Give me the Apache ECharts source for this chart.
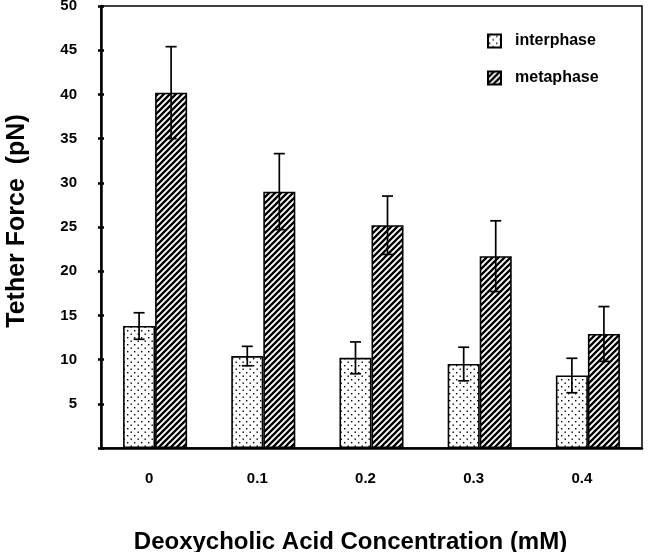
<!DOCTYPE html>
<html>
<head>
<meta charset="utf-8">
<script src="https://cdn.jsdelivr.net/npm/echarts@6/dist/echarts.min.js"></script>
<style>
html,body{margin:0;padding:0;background:#fff;}
#c{width:648px;height:552px;}
</style>
</head>
<body>
<div id="c"></div>
<script>
const categories = ['0', '0.1', '0.2', '0.3', '0.4'];
const interphase = [13.8, 10.4, 10.2, 9.5, 8.2];
const interphaseErr = [1.5, 1.1, 1.8, 1.9, 1.95];
const metaphase = [40.2, 29.0, 25.2, 21.7, 12.9];
const metaphaseErr = [5.2, 4.3, 3.3, 4.0, 3.1];
const yTickLabels = ['', '5', '10', '15', '20', '25', '30', '35', '40', '45', '50'];

function dotPattern() {
  const c = document.createElement('canvas');
  c.width = 7; c.height = 7;
  const g = c.getContext('2d');
  g.fillStyle = '#fff'; g.fillRect(0, 0, 7, 7);
  g.fillStyle = '#000';
  g.fillRect(1, 1, 1.4, 1.4);
  g.fillRect(4.5, 4.5, 1.4, 1.4);
  return c;
}
function hatchPattern() {
  const s = 6;
  const c = document.createElement('canvas');
  c.width = s; c.height = s;
  const g = c.getContext('2d');
  g.fillStyle = '#fff'; g.fillRect(0, 0, s, s);
  g.strokeStyle = '#000'; g.lineWidth = 2.3;
  g.beginPath();
  g.moveTo(-s, s); g.lineTo(s, -s);
  g.moveTo(0, s); g.lineTo(s, 0);
  g.moveTo(0, 2 * s); g.lineTo(2 * s, 0);
  g.stroke();
  return c;
}

const BAR_RATIO = 0.296;
function errItem(params, api) {
  const x = api.value(0), lo = api.value(1), hi = api.value(2), side = api.value(3);
  const catW = api.size([1, 0])[0];
  const bw = catW * BAR_RATIO;
  const pHi = api.coord([x, hi]);
  const pLo = api.coord([x, lo]);
  const cx = pHi[0] + side * bw / 2;
  const cap = 5.5;
  const st = { stroke: '#000', lineWidth: 1.7 };
  return {
    type: 'group',
    children: [
      { type: 'line', shape: { x1: cx, y1: pHi[1], x2: cx, y2: pLo[1] }, style: st },
      { type: 'line', shape: { x1: cx - cap, y1: pHi[1], x2: cx + cap, y2: pHi[1] }, style: st },
      { type: 'line', shape: { x1: cx - cap, y1: pLo[1], x2: cx + cap, y2: pLo[1] }, style: st }
    ]
  };
}

const errData = [];
interphase.forEach((v, i) => errData.push([i, v - interphaseErr[i], v + interphaseErr[i], -1]));
metaphase.forEach((v, i) => errData.push([i, v - metaphaseErr[i], v + metaphaseErr[i], 1]));

const font = '"Liberation Sans", Arial, Helvetica, sans-serif';
const chart = echarts.init(document.getElementById('c'), null, { renderer: 'canvas' });
chart.setOption({
  animation: false,
  backgroundColor: '#fff',
  textStyle: { fontFamily: font, color: '#000' },
  grid: { left: 101, right: 6, top: 6, bottom: 104, show: true, borderColor: '#000', borderWidth: 1.5,
    containLabel: false, outerBoundsMode: 'none' },
  legend: {
    orient: 'vertical', left: 482, top: 28, itemWidth: 13, itemHeight: 13, itemGap: 21,
    icon: 'rect',
    itemStyle: { borderWidth: 2, borderColor: '#000' },
    textStyle: { fontFamily: font, fontSize: 16, fontWeight: 'bold', color: '#000', padding: [0, 0, 0, 9] },
    data: ['interphase', 'metaphase']
  },
  xAxis: [{
    type: 'category', data: categories, position: 'bottom',
    name: 'Deoxycholic Acid Concentration (mM)', nameLocation: 'middle', nameGap: 82,
    nameTextStyle: { fontFamily: font, fontSize: 24, fontWeight: 'bold', color: '#000', verticalAlign: 'top',
      padding: [0, 42, 0, 0] },
    axisLine: { lineStyle: { color: '#000', width: 2.5 } },
    axisTick: { length: 5, lineStyle: { color: '#000', width: 2.5 } },
    axisLabel: { margin: 23, interval: 0, fontFamily: font, fontSize: 15, fontWeight: 'bold', color: '#000',
      padding: [0, 12, 0, 0] }
  }, {
    type: 'category', data: categories, position: 'bottom',
    axisLine: { show: false },
    axisTick: { inside: true, length: 3, lineStyle: { color: '#000', width: 2.5 } },
    axisLabel: { show: false }
  }],
  yAxis: [{
    type: 'value', min: 0, max: 50, interval: 5, position: 'left',
    name: 'Tether Force  (pN)', nameLocation: 'middle', nameGap: 71,
    nameTextStyle: { fontFamily: font, fontSize: 25, fontWeight: 'bold', color: '#000', padding: [0, 0, 0, 12] },
    axisLine: { show: true, lineStyle: { color: '#000', width: 2.5 } },
    axisTick: { show: true, length: 3, lineStyle: { color: '#000', width: 2.5 } },
    splitLine: { show: false },
    axisLabel: { margin: 24, fontFamily: font, fontSize: 15, fontWeight: 'bold', color: '#000',
      formatter: v => yTickLabels[Math.round(v / 5)] }
  }, {
    type: 'value', min: 0, max: 50, interval: 5, position: 'left',
    axisLine: { show: false },
    axisTick: { show: true, inside: true, length: 3, lineStyle: { color: '#000', width: 2.5 } },
    splitLine: { show: false },
    axisLabel: { show: false }
  }],
  series: [{
    name: 'interphase', type: 'bar', data: interphase, barWidth: '29.6%', barGap: '0%',
    itemStyle: { color: { image: dotPattern(), repeat: 'repeat' }, borderColor: '#000', borderWidth: 1.6 }
  }, {
    name: 'metaphase', type: 'bar', data: metaphase, barWidth: '29.6%', barGap: '0%',
    itemStyle: { color: { image: hatchPattern(), repeat: 'repeat' }, borderColor: '#000', borderWidth: 1.6 }
  }, {
    name: 'err', type: 'custom', renderItem: errItem, data: errData, z: 5,
    encode: { x: 0, y: [1, 2] }
  }]
});
</script>
</body>
</html>
